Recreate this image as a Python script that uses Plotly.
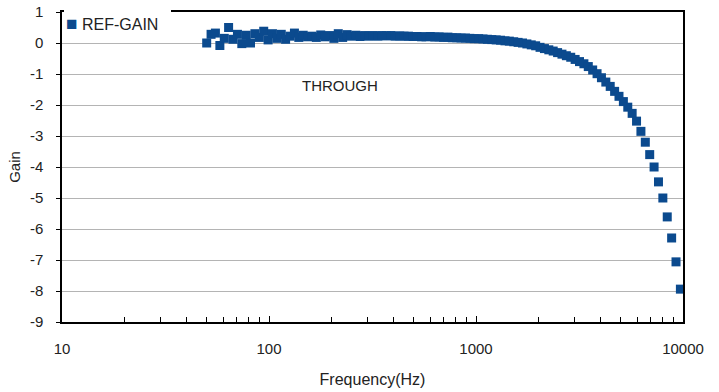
import plotly.graph_objects as go

freq_hz = [
    50.0, 52.5, 55.1, 57.9, 60.8, 63.8, 67.0, 70.4, 73.9, 77.6,
    81.4, 85.5, 89.8, 94.3, 99.0, 103.9, 109.1, 114.6, 120.3, 126.4,
    132.7, 139.3, 146.3, 153.6, 161.3, 169.3, 177.8, 186.7, 196.0, 205.8,
    216.1, 226.9, 238.3, 250.2, 262.7, 275.8, 289.6, 304.1, 319.3, 335.3,
    352.0, 369.6, 388.1, 407.5, 427.9, 449.3, 471.7, 495.3, 520.1, 546.1,
    573.4, 602.1, 632.2, 663.8, 697.0, 731.8, 768.4, 806.8, 847.2, 889.6,
    934.0, 980.7, 1029.8, 1081.2, 1135.3, 1192.1, 1251.7, 1314.2, 1380.0, 1449.0,
    1521.4, 1597.5, 1677.3, 1761.2, 1849.3, 1941.7, 2038.8, 2140.7, 2247.8, 2360.2,
    2478.2, 2602.1, 2732.2, 2868.8, 3012.2, 3162.8, 3321.0, 3487.0, 3661.4, 3844.5,
    4036.7, 4238.5, 4450.5, 4673.0, 4906.6, 5152.0, 5409.6, 5680.1, 5964.1, 6262.3,
    6575.4, 6904.2, 7249.4, 7611.8, 7992.4, 8392.1, 8811.7, 9252.3, 9714.9,
]

ref_gain = [
    0.00, 0.28, 0.32, -0.08, 0.15, 0.50, 0.12, 0.28, -0.02, 0.25,
    0.00, 0.30, 0.18, 0.38, 0.10, 0.30, 0.15, 0.28, 0.12, 0.22,
    0.32, 0.18, 0.25, 0.20, 0.22, 0.18, 0.26, 0.20, 0.24, 0.15,
    0.30, 0.18, 0.27, 0.22, 0.25, 0.21, 0.24, 0.22, 0.24, 0.22,
    0.24, 0.23, 0.24, 0.22, 0.23, 0.22, 0.22, 0.21, 0.21, 0.20,
    0.20, 0.21, 0.19, 0.20, 0.18, 0.19, 0.17, 0.17, 0.16, 0.16,
    0.15, 0.14, 0.14, 0.13, 0.12, 0.11, 0.10, 0.09, 0.07, 0.06,
    0.04, 0.02, 0.00, -0.03, -0.06, -0.09, -0.14, -0.18, -0.22, -0.26,
    -0.31, -0.36, -0.41, -0.46, -0.53, -0.60, -0.67, -0.76, -0.87, -0.99,
    -1.12, -1.26, -1.40, -1.56, -1.72, -1.89, -2.07, -2.27, -2.52, -2.85,
    -3.20, -3.60, -4.00, -4.48, -5.00, -5.61, -6.29, -7.06, -7.94,
]

x_tick_vals = [10, 100, 1000, 10000]
x_tick_text = ["10", "100", "1000", "10000"]
y_tick_vals = [1, 0, -1, -2, -3, -4, -5, -6, -7, -8, -9]
y_tick_text = ["1", "0", "-1", "-2", "-3", "-4", "-5", "-6", "-7", "-8", "-9"]

BLUE = "#0B4A8E"
FONT = "Liberation Sans, Arial, sans-serif"
TXT = "#222222"

W, H = 719, 392
L, R, T, B = 62, 36, 12, 70
PW, PH = W - L - R, H - T - B

fig = go.Figure()
fig.add_trace(go.Scatter(
    x=freq_hz, y=ref_gain, mode="markers", name="REF-GAIN",
    marker=dict(symbol="square", size=9, color=BLUE, line=dict(width=0)),
    showlegend=False,
))

# legend box (white, covers the top border like the original)
fig.add_annotation(
    xref="paper", yref="paper",
    x=2 / PW, y=(PH + 2) / PH,
    xanchor="left", yanchor="top",
    width=103, height=22, align="left", valign="middle",
    bgcolor="white", borderpad=2, borderwidth=0,
    text="<span style='color:%s;font-size:19px'>■</span> REF-GAIN" % BLUE,
    showarrow=False,
    font=dict(family=FONT, size=16, color=TXT),
)

fig.add_annotation(
    x=2.343, y=-1.36, xref="x", yref="y", text="THROUGH", showarrow=False,
    font=dict(family=FONT, size=15, color=TXT),
)

fig.update_layout(
    width=W, height=H,
    margin=dict(l=L, r=R, t=T, b=B, autoexpand=False),
    paper_bgcolor="white", plot_bgcolor="white",
    font=dict(family=FONT, size=15, color=TXT),
    showlegend=False,
    xaxis=dict(
        type="log", range=[1, 4], automargin=False,
        tickvals=x_tick_vals, ticktext=x_tick_text,
        tickfont=dict(family=FONT, size=15, color=TXT),
        showgrid=False, zeroline=False,
        showline=True, linecolor="black", linewidth=2, mirror=True,
        ticks="inside", ticklen=6, tickcolor="black", tickwidth=1,
        ticklabelstandoff=12,
        minor=dict(ticks="inside", ticklen=5, tickcolor="black", tickwidth=1,
                   dtick="D1", showgrid=False),
        title=dict(text="Frequency(Hz)", standoff=18,
                   font=dict(family=FONT, size=16, color=TXT)),
    ),
    yaxis=dict(
        range=[-9, 1], tickvals=y_tick_vals, ticktext=y_tick_text,
        automargin=False,
        tickfont=dict(family=FONT, size=15, color=TXT),
        showgrid=True, gridcolor="#B4B4B4", gridwidth=1,
        zeroline=False,
        showline=True, linecolor="black", linewidth=1.5, mirror=True,
        ticks="outside", ticklen=4, tickcolor="black", tickwidth=1,
        ticklabelstandoff=10, ticklabeloverflow="allow",
        title=dict(text="Gain", standoff=6,
                   font=dict(family=FONT, size=15, color=TXT)),
    ),
)

# remove the page's default 8px body margin so the figure fills the window
fig.write_html(
    "out.html",
    config={"displayModeBar": False},
    post_script="document.body.style.margin='0';document.body.style.overflow='hidden';",
)
